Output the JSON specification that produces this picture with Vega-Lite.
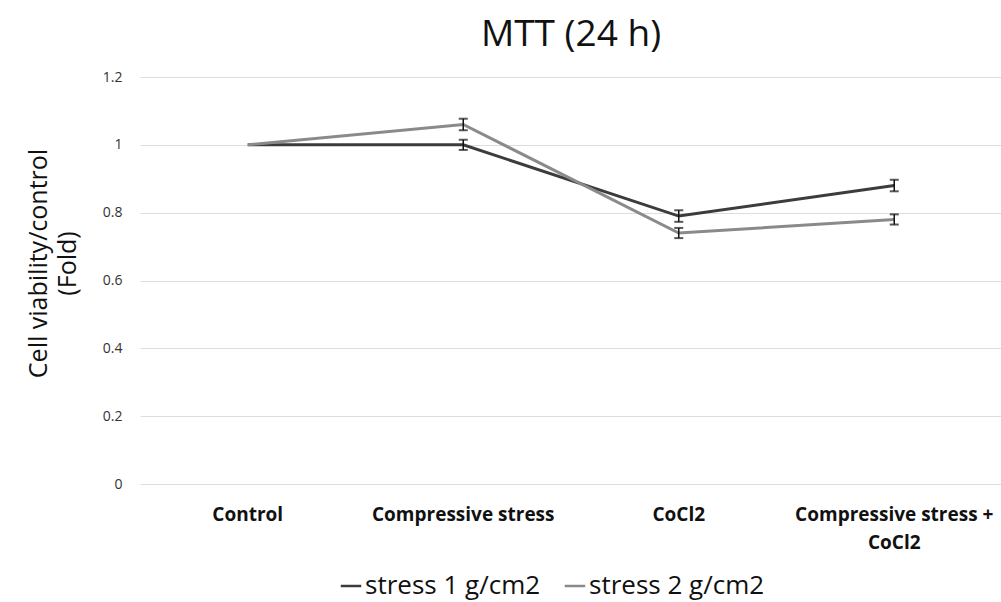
{
  "$schema": "https://vega.github.io/schema/vega-lite/v6.json",
  "autosize": {"type": "none"},
  "width": 862,
  "height": 407,
  "padding": {"left": 140, "top": 77, "right": 0, "bottom": 118},
  "background": "#ffffff",
  "title": {
    "text": "MTT (24 h)",
    "font": "Open Sans",
    "fontSize": 37,
    "fontWeight": "normal",
    "color": "#111111",
    "anchor": "middle",
    "offset": 16
  },
  "data": {
    "values": [
      {"group": "Control", "series": "stress 1 g/cm2", "value": 1.0, "err": 0.0},
      {"group": "Compressive stress", "series": "stress 1 g/cm2", "value": 1.0, "err": 0.015},
      {"group": "CoCl2", "series": "stress 1 g/cm2", "value": 0.79, "err": 0.017},
      {"group": "Compressive stress + CoCl2", "series": "stress 1 g/cm2", "value": 0.88, "err": 0.017},
      {"group": "Control", "series": "stress 2 g/cm2", "value": 1.0, "err": 0.0},
      {"group": "Compressive stress", "series": "stress 2 g/cm2", "value": 1.06, "err": 0.017},
      {"group": "CoCl2", "series": "stress 2 g/cm2", "value": 0.74, "err": 0.015},
      {"group": "Compressive stress + CoCl2", "series": "stress 2 g/cm2", "value": 0.78, "err": 0.015}
    ]
  },
  "transform": [
    {"calculate": "datum.value - datum.err", "as": "lo"},
    {"calculate": "datum.value + datum.err", "as": "hi"}
  ],
  "encoding": {
    "x": {
      "field": "group",
      "type": "nominal",
      "sort": ["Control", "Compressive stress", "CoCl2", "Compressive stress + CoCl2"],
      "scale": {"paddingInner": 0, "paddingOuter": 0},
      "axis": {
        "title": null,
        "labelAngle": 0,
        "domain": false,
        "ticks": false,
        "labelFont": "Open Sans",
        "labelFontWeight": "bold",
        "labelFontSize": 19,
        "labelColor": "#111111",
        "labelPadding": 21,
        "labelLineHeight": 28,
        "labelLimit": 400,
        "labelExpr": "datum.label == 'Compressive stress + CoCl2' ? ['Compressive stress +', 'CoCl2'] : datum.label"
      }
    }
  },
  "layer": [
    {
      "mark": {"type": "line", "strokeWidth": 3},
      "encoding": {
        "y": {
          "field": "value",
          "type": "quantitative",
          "scale": {"domain": [0, 1.2]},
          "axis": {
            "values": [0, 0.2, 0.4, 0.6, 0.8, 1, 1.2],
            "format": "~g",
            "title": ["Cell viability/control", "(Fold)"],
            "titleFont": "Open Sans",
            "titleFontSize": 25,
            "titleFontWeight": "normal",
            "titleColor": "#111111",
            "titlePadding": 22,
            "titleLineHeight": 29,
            "titleY": 186,
            "labelFont": "Open Sans",
            "labelFontSize": 14,
            "labelColor": "#333333",
            "labelPadding": 18,
            "domain": false,
            "ticks": false,
            "gridColor": "#dddddd",
            "gridWidth": 1
          }
        },
        "color": {
          "field": "series",
          "type": "nominal",
          "scale": {"domain": ["stress 1 g/cm2", "stress 2 g/cm2"], "range": ["#3c3c3c", "#8a8a8a"]},
          "legend": {
            "title": null,
            "orient": "none",
            "legendX": 198,
            "legendY": 496,
            "direction": "horizontal",
            "symbolType": "stroke",
            "symbolStrokeWidth": 2.5,
            "symbolSize": 420,
            "labelFont": "Open Sans",
            "labelFontSize": 26,
            "labelColor": "#111111",
            "labelLimit": 300,
            "columnPadding": 18,
            "symbolOffset": 0,
            "labelOffset": 1
          }
        }
      }
    },
    {
      "mark": {"type": "rule", "color": "#111111", "strokeWidth": 1.5},
      "transform": [{"filter": "datum.err > 0"}],
      "encoding": {
        "y": {"field": "lo", "type": "quantitative"},
        "y2": {"field": "hi"}
      }
    },
    {
      "mark": {"type": "tick", "color": "#111111", "thickness": 2, "size": 9, "orient": "horizontal"},
      "transform": [{"filter": "datum.err > 0"}],
      "encoding": {"y": {"field": "lo", "type": "quantitative"}}
    },
    {
      "mark": {"type": "tick", "color": "#111111", "thickness": 2, "size": 9, "orient": "horizontal"},
      "transform": [{"filter": "datum.err > 0"}],
      "encoding": {"y": {"field": "hi", "type": "quantitative"}}
    }
  ],
  "config": {"view": {"stroke": null}}
}
